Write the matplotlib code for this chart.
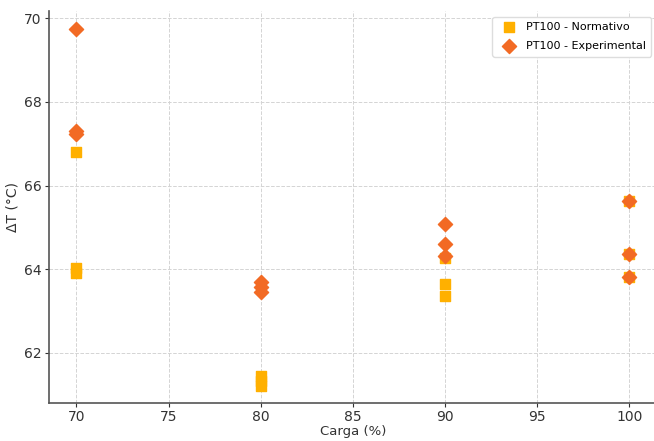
import matplotlib
matplotlib.use("Agg")
import matplotlib.pyplot as plt

# Carga (%) and temperature rise for each PT100 series
carga_normativo = [70, 70, 70, 80, 80, 80, 90, 90, 90, 100, 100, 100]
dt_normativo = [66.79, 64.04, 63.92, 61.45, 61.33, 61.22, 64.26, 63.65, 63.36, 65.62, 64.36, 63.81]

carga_experimental = [70, 70, 70, 80, 80, 80, 90, 90, 90, 100, 100, 100]
dt_experimental = [69.73, 67.31, 67.22, 63.69, 63.57, 63.45, 65.07, 64.60, 64.31, 65.63, 64.37, 63.82]

x_ticks = [70, 75, 80, 85, 90, 95, 100]
y_ticks = [62, 64, 66, 68, 70]

fig = plt.figure(figsize=(6.54, 4.41), dpi=100)
ax = fig.add_axes([0.0745, 0.086, 0.93, 0.889])

ax.scatter(carga_normativo, dt_normativo, marker="s", s=52, color="#FFB000",
           label="PT100 - Normativo", zorder=3)
ax.scatter(carga_experimental, dt_experimental, marker="D", s=52, color="#F26A24",
           label="PT100 - Experimental", zorder=4)

ax.set_xlim(68.5, 101.5)
ax.set_ylim(60.8, 70.17)
ax.set_xticks(x_ticks)
ax.set_yticks(y_ticks)
ax.tick_params(labelsize=10, colors="#333333", length=3, pad=2)

ax.set_xlabel("Carga (%)", fontsize=9.5, color="#333333", labelpad=1)
ax.set_ylabel("ΔT (°C)", fontsize=10, color="#333333", labelpad=3)

ax.grid(True, linestyle="--", color="#d4d4d4", linewidth=0.7, zorder=0)
ax.set_axisbelow(True)
for side in ("top", "right"):
    ax.spines[side].set_visible(False)
for side in ("left", "bottom"):
    ax.spines[side].set_color("#555555")
    ax.spines[side].set_linewidth(1.2)

ax.legend(loc="upper right", fontsize=8, frameon=True, framealpha=1,
          edgecolor="#dddddd", borderpad=0.5, handletextpad=0.5,
          labelspacing=0.8, bbox_to_anchor=(1.0, 1.0))

fig.savefig("out.png", dpi=100)
